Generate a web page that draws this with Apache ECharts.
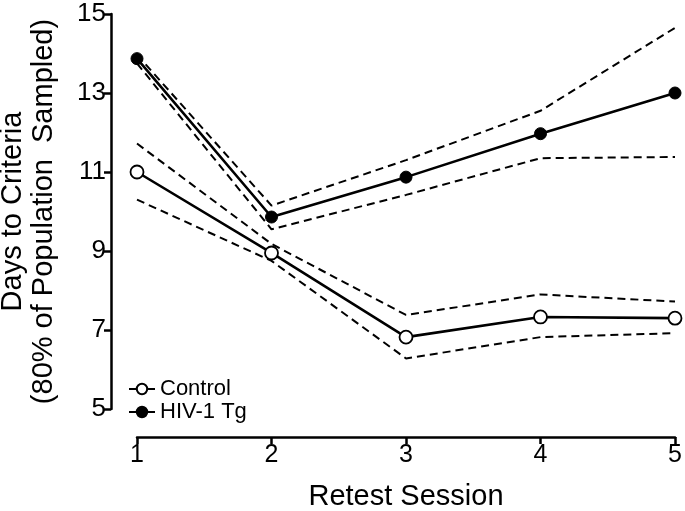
<!DOCTYPE html>
<html>
<head>
<meta charset="utf-8">
<script src="https://cdn.jsdelivr.net/npm/echarts@6/dist/echarts.min.js"></script>
<style>html,body{margin:0;padding:0;background:#fff}#c{width:685px;height:511px}</style>
</head>
<body>
<div id="c"></div>
<script>
var sessions = [1, 2, 3, 4, 5];
var yTicks = [5, 7, 9, 11, 13, 15];
var controlMean = [11.0, 8.95, 6.82, 7.33, 7.3];
var controlUpper = [11.72, 9.18, 7.38, 7.9, 7.72];
var controlLower = [10.3, 8.75, 6.28, 6.82, 6.92];
var hivMean = [13.87, 9.86, 10.87, 11.97, 13.0];
var hivUpper = [13.97, 10.15, 11.3, 12.55, 14.65];
var hivLower = [13.75, 9.55, 10.42, 11.35, 11.38];

function pairs(v) { return sessions.map(function (s, i) { return [s, v[i]]; }); }

var font = 'Liberation Sans';
var chart = echarts.init(document.getElementById('c'));
function band(name, data) {
  return {
    name: name, type: 'line', data: pairs(data), symbol: 'none', silent: true,
    lineStyle: { color: '#000', width: 2, type: [8, 5] }, z: 1
  };
}
chart.setOption({
  animation: false,
  backgroundColor: '#fff',
  grid: { left: 137, right: 10, top: 14, bottom: 102, outerBoundsMode: 'none', containLabel: false },
  legend: {
    data: ['Control', 'HIV-1 Tg'], orient: 'vertical', left: 123, top: 373,
    itemWidth: 26, itemHeight: 13, itemGap: 1,
    textStyle: { fontFamily: font, fontSize: 22, color: '#000' }
  },
  xAxis: {
    type: 'value', min: 1, max: 5, interval: 1, offset: 28,
    axisLine: { show: true, lineStyle: { color: '#000', width: 2.5 } },
    axisTick: { show: true, length: 7, lineStyle: { color: '#000', width: 2.5 } },
    axisLabel: { fontFamily: font, fontSize: 25, color: '#000', margin: 6 },
    splitLine: { show: false },
    name: 'Retest Session', nameLocation: 'middle', nameGap: 45,
    nameTextStyle: { fontFamily: font, fontSize: 29, color: '#000' }
  },
  yAxis: {
    type: 'value', min: 5, max: 15, interval: 2, offset: 26,
    axisLine: { show: true, lineStyle: { color: '#000', width: 2.5 } },
    axisTick: { show: true, length: 7, lineStyle: { color: '#000', width: 2.5 } },
    axisLabel: { fontFamily: font, fontSize: 26, color: '#000', margin: 5 },
    splitLine: { show: false },
    name: 'Days to Criteria\n(80% of Population  Sampled)', nameLocation: 'middle', nameGap: 52,
    nameTextStyle: { fontFamily: font, fontSize: 29, color: '#000', lineHeight: 31 }
  },
  series: [
    band('cu', controlUpper), band('cl', controlLower),
    band('hu', hivUpper), band('hl', hivLower),
    {
      name: 'Control', type: 'line', data: pairs(controlMean), symbol: 'circle', symbolSize: 13,
      itemStyle: { color: '#fff', borderColor: '#000', borderWidth: 1.8 },
      lineStyle: { color: '#000', width: 2.6 }, z: 3
    },
    {
      name: 'HIV-1 Tg', type: 'line', data: pairs(hivMean), symbol: 'circle', symbolSize: 12,
      itemStyle: { color: '#000', borderColor: '#000', borderWidth: 1 },
      lineStyle: { color: '#000', width: 2.6 }, z: 3
    }
  ]
});
</script>
</body>
</html>
